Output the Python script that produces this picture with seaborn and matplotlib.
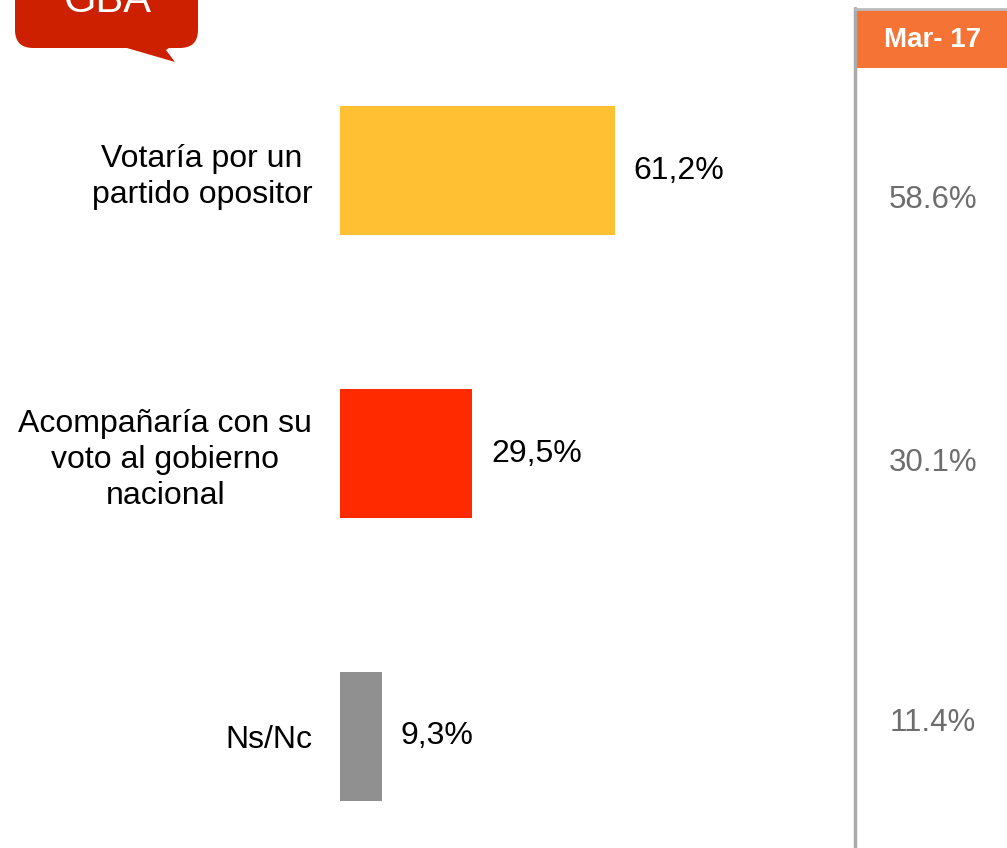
import numpy as np
import pandas as pd
import matplotlib
matplotlib.use('Agg')
import matplotlib.pyplot as plt
from matplotlib.patches import FancyBboxPatch, Polygon, Rectangle
from matplotlib.lines import Line2D
import seaborn as sns

# Data
categories = ['Votaría por un\npartido opositor',
              'Acompañaría con su\nvoto al gobierno\nnacional',
              'Ns/Nc']
values = [61.2, 29.5, 9.3]
value_labels = ['61,2%', '29,5%', '9,3%']
bar_colors = ['#FFC133', '#FF2A00', '#909090']
prev_header = 'Mar- 17'
prev_values = ['58.6%', '30.1%', '11.4%']
badge_text = 'GBA'

W, H = 1007, 848
sns.set_theme(style='white')
plt.rcParams['font.family'] = ['Liberation Sans', 'DejaVu Sans']

fig = plt.figure(figsize=(W / 100, H / 100), dpi=100)

# axes: x=0 at px 340, 4.49 px per unit
ax = fig.add_axes([340 / W, 0, 449 / W, 1])
df = pd.DataFrame({'cat': categories, 'val': values})
sns.barplot(data=df, x='val', y='cat', hue='cat', palette=bar_colors,
            width=0.456, legend=False, ax=ax, saturation=1, linewidth=0)
ax.set_xlim(0, 100)
ax.set_ylim(2.394, -0.6025)
ax.set_xlabel('')
ax.set_ylabel('')
ax.set_xticks([])
for s in ax.spines.values():
    s.set_visible(False)
ax.tick_params(axis='y', length=0, pad=20, labelsize=23, labelcolor='black')
for t in ax.get_yticklabels():
    t.set_multialignment('center')
    t.set_linespacing(1.25)

# one container per hue level, same order as categories
for c, lab in zip(ax.containers, value_labels):
    ax.bar_label(c, labels=[lab], padding=13.5, fontsize=23, color='black')


def fx(px):
    return px / W


def fy(py):
    return 1 - py / H


# right column (previous measurement)
fig.add_artist(Line2D([fx(855), fx(855)], [fy(8), fy(848)], color='#AAAAAA', lw=2.5))
fig.add_artist(Line2D([fx(855), fx(1007)], [fy(9), fy(9)], color='#BBBBBB', lw=2))
fig.add_artist(Rectangle((fx(856), fy(68)), fx(151), 58 / H, color='#F47335', lw=0))
fig.text(fx(933), fy(40), prev_header, color='white', fontsize=20, fontweight='bold',
         ha='center', va='center')
for py, v in zip([200, 463, 723], prev_values):
    fig.text(fx(933), fy(py), v, color='#6D6D6D', fontsize=22.5, ha='center', va='center')

# red badge top-left
fig.add_artist(FancyBboxPatch((fx(15), fy(48)), fx(183), 100 / H,
                              boxstyle='round,pad=0,rounding_size=0.018',
                              mutation_aspect=W / H, color='#CC2000', lw=0))
fig.add_artist(Polygon([(fx(120), fy(46)), (fx(175), fy(62)), (fx(166), fy(50)), (fx(172), fy(46))],
                       closed=True, color='#CC2000', lw=0))
fig.text(fx(108), fy(12), badge_text, color='white', fontsize=30, ha='center', va='baseline')

fig.savefig('out.png', dpi=100)
